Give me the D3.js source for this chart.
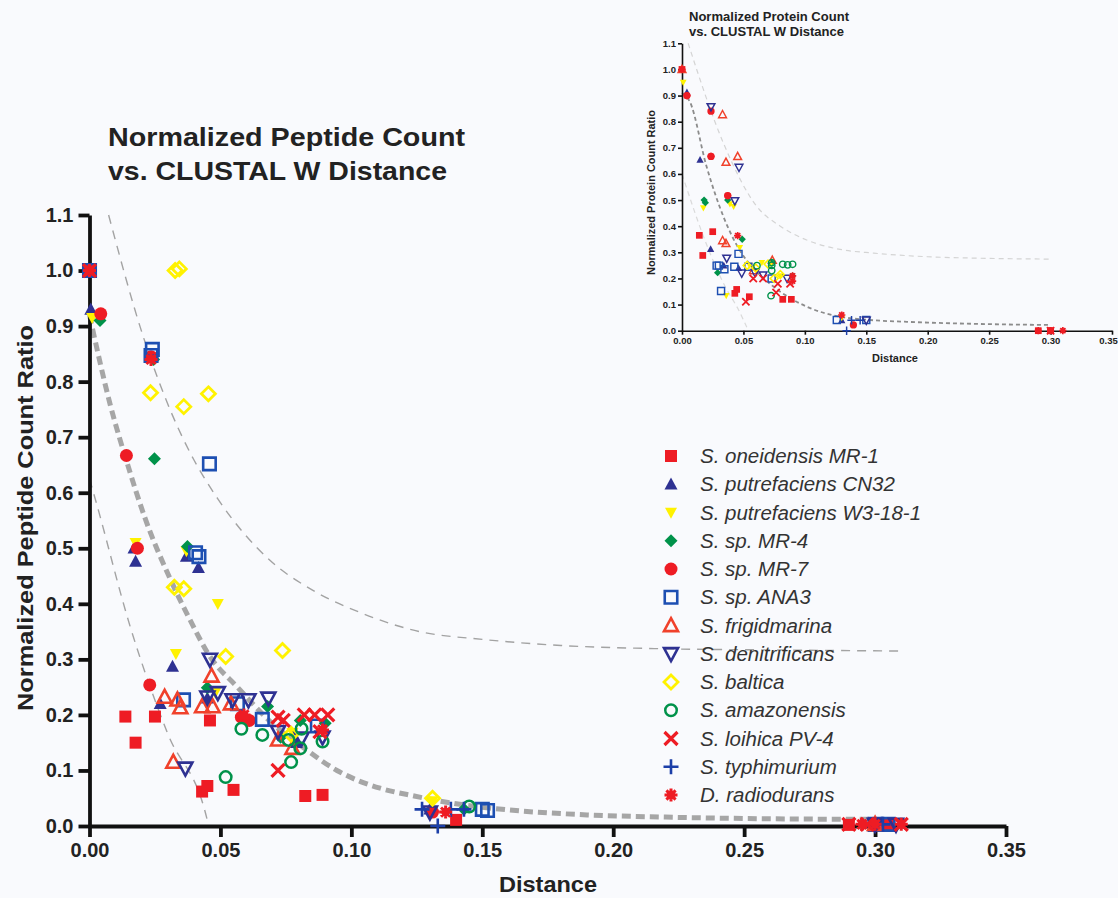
<!DOCTYPE html>
<html>
<head>
<meta charset="utf-8">
<script src="https://cdn.jsdelivr.net/npm/d3@7"></script>
<style>
  body { margin: 0; background: #f9fafd; }
  svg { display: block; font-family: "Liberation Sans", Arial, sans-serif; }
</style>
</head>
<body>
<div id="vizContainer"></div>
<script>
let w = 1118;
let h = 898;

// species, in legend order
let species = [
  "S. oneidensis MR-1", "S. putrefaciens CN32", "S. putrefaciens W3-18-1",
  "S. sp. MR-4", "S. sp. MR-7", "S. sp. ANA3", "S. frigidmarina",
  "S. denitrificans", "S. baltica", "S. amazonensis", "S. loihica PV-4",
  "S. typhimurium", "D. radiodurans"
];

let xTicks = [0, 0.05, 0.10, 0.15, 0.20, 0.25, 0.30, 0.35];
let yTicks = [0, 0.1, 0.2, 0.3, 0.4, 0.5, 0.6, 0.7, 0.8, 0.9, 1.0, 1.1];

// main chart: [distance, normalized peptide count ratio]
let pepMR1 = [[0, 1.0], [0.0137, 0.197], [0.0176, 0.15], [0.025, 0.197], [0.046, 0.19], [0.043, 0.062], [0.045, 0.072], [0.055, 0.065], [0.0824, 0.054], [0.089, 0.056], [0.14, 0.011], [0.29, 0.002], [0.305, 0.003]];
let pepCN32 = [[0.0005, 0.93], [0.017, 0.5], [0.0176, 0.476], [0.0317, 0.287], [0.037, 0.485], [0.0416, 0.465], [0.027, 0.22], [0.045, 0.23], [0.079, 0.15], [0.13, 0.03]];
let pepW318 = [[0.001, 0.915], [0.0176, 0.51], [0.033, 0.31], [0.049, 0.4], [0.037, 0.495], [0.0775, 0.168], [0.131, 0.045], [0.048, 0.24]];
let pepMR4 = [[0.004, 0.91], [0.0245, 0.84], [0.0248, 0.661], [0.0374, 0.503], [0.045, 0.249], [0.068, 0.215], [0.0805, 0.19], [0.09, 0.185], [0.143, 0.03], [0.073, 0.16]];
let pepMR7 = [[0.0043, 0.922], [0.0235, 0.845], [0.0141, 0.667], [0.0183, 0.5], [0.023, 0.254], [0.058, 0.196], [0.061, 0.19], [0.131, 0.025], [0.3, 0.003]];
let pepANA3 = [[0, 1.0], [0.024, 0.858], [0.0235, 0.847], [0.0458, 0.652], [0.0405, 0.492], [0.0418, 0.485], [0.0359, 0.227], [0.066, 0.192], [0.0565, 0.22], [0.087, 0.18], [0.15, 0.03], [0.152, 0.028], [0.3, 0.003], [0.305, 0.003]];
let pepFrig = [[0.0287, 0.232], [0.0336, 0.227], [0.0347, 0.213], [0.043, 0.215], [0.047, 0.215], [0.0466, 0.27], [0.032, 0.115], [0.0775, 0.14], [0.072, 0.155], [0.054, 0.22], [0.3, 0.003]];
let pepDenit = [[0.046, 0.3], [0.045, 0.232], [0.049, 0.24], [0.0546, 0.227], [0.0607, 0.227], [0.0683, 0.23], [0.0366, 0.104], [0.081, 0.158], [0.089, 0.16], [0.072, 0.17], [0.3, 0.003], [0.308, 0.003], [0.13, 0.025]];
let pepBalt = [[0.0327, 1.0], [0.0343, 1.003], [0.0233, 0.78], [0.036, 0.755], [0.0454, 0.778], [0.0324, 0.43], [0.036, 0.427], [0.052, 0.305], [0.0737, 0.316], [0.131, 0.05], [0.077, 0.165]];
let pepAmaz = [[0.058, 0.175], [0.066, 0.164], [0.076, 0.155], [0.0805, 0.14], [0.081, 0.175], [0.077, 0.115], [0.089, 0.152], [0.052, 0.088], [0.145, 0.035]];
let pepLoih = [[0, 1.0], [0.072, 0.196], [0.074, 0.19], [0.082, 0.2], [0.086, 0.2], [0.091, 0.2], [0.072, 0.1], [0.088, 0.17], [0.29, 0.003], [0.297, 0.003], [0.31, 0.003]];
let pepTyph = [[0, 1.0], [0.127, 0.03], [0.133, 0.0], [0.138, 0.03], [0.143, 0.03], [0.303, 0.003]];
let pepRadio = [[0, 1.0], [0.0235, 0.84], [0.089, 0.173], [0.059, 0.2], [0.3, 0.003], [0.295, 0.003], [0.31, 0.003], [0.136, 0.025]];

// inset chart: [distance, normalized protein count ratio]
let protMR1 = [[0, 1.0], [0.0141, 0.365], [0.025, 0.379], [0.0169, 0.288], [0.0548, 0.13], [0.0445, 0.158], [0.043, 0.143], [0.082, 0.12], [0.089, 0.12], [0.29, 0.0], [0.3, 0.0]];
let protCN32 = [[0.004, 0.912], [0.0147, 0.654], [0.0233, 0.312], [0.034, 0.249], [0.046, 0.24], [0.13, 0.04]];
let protW318 = [[0.001, 0.95], [0.0174, 0.47], [0.042, 0.475], [0.039, 0.485], [0.047, 0.318], [0.055, 0.25], [0.065, 0.26], [0.036, 0.134], [0.08, 0.21], [0.13, 0.05]];
let protMR4 = [[0.018, 0.5], [0.019, 0.49], [0.0372, 0.5], [0.049, 0.35], [0.029, 0.222], [0.073, 0.26], [0.09, 0.21]];
let protMR7 = [[0.004, 0.9], [0.0236, 0.84], [0.0236, 0.667], [0.0372, 0.517], [0.1395, 0.022], [0.3, 0]];
let protANA3 = [[0.0282, 0.249], [0.030, 0.249], [0.0345, 0.235], [0.0426, 0.245], [0.046, 0.294], [0.054, 0.245], [0.073, 0.2], [0.0318, 0.152], [0.126, 0.041], [0.15, 0.041]];
let protFrig = [[0, 1.0], [0.033, 0.827], [0.0358, 0.645], [0.0453, 0.667], [0.033, 0.345], [0.0358, 0.334], [0.0735, 0.27], [0.058, 0.23]];
let protDenit = [[0.0236, 0.857], [0.0464, 0.625], [0.043, 0.497], [0.0364, 0.277], [0.0486, 0.22], [0.0594, 0.222], [0.066, 0.213], [0.0855, 0.2], [0.15, 0.04]];
let protBalt = [[0.053, 0.25], [0.06, 0.24], [0.07, 0.255], [0.08, 0.215], [0.075, 0.2]];
let protAmaz = [[0.073, 0.26], [0.073, 0.25], [0.073, 0.23], [0.082, 0.254], [0.086, 0.252], [0.09, 0.254], [0.061, 0.249], [0.0725, 0.134]];
let protLoih = [[0.058, 0.2], [0.066, 0.2], [0.078, 0.18], [0.088, 0.18], [0.0766, 0.146], [0.052, 0.111], [0.3, 0]];
let protTyph = [[0.134, 0.0], [0.138, 0.04], [0.145, 0.04]];
let protRadio = [[0, 1.0], [0.004, 0.9], [0.0236, 0.667], [0.0453, 0.364], [0.0372, 0.517], [0.09, 0.21], [0.09, 0.19], [0.29, 0], [0.31, 0], [0.13, 0.06]];

// dashed curves
let fitMain = [[0, 0.92], [0.008, 0.757], [0.015, 0.644], [0.021, 0.557], [0.031, 0.443], [0.0385, 0.37], [0.046, 0.305], [0.0565, 0.25], [0.069, 0.188], [0.082, 0.14], [0.0945, 0.10], [0.1035, 0.08], [0.111, 0.068], [0.124, 0.054], [0.14, 0.04], [0.16, 0.029], [0.19, 0.02], [0.22, 0.016], [0.26, 0.013], [0.30, 0.012]];
let upperMain = [[0.0073, 1.1], [0.0206, 0.88], [0.031, 0.747], [0.04, 0.658], [0.049, 0.589], [0.069, 0.478], [0.085, 0.425], [0.103, 0.385], [0.126, 0.35], [0.15, 0.336], [0.18, 0.325], [0.22, 0.319], [0.26, 0.317], [0.31, 0.315]];
let lowerMain = [[0, 0.625], [0.0023, 0.587], [0.0156, 0.358], [0.0298, 0.167], [0.045, 0.01], [0.0455, 0]];
let fitInset = [[0, 0.91], [0.0065, 0.875], [0.02, 0.628], [0.0337, 0.437], [0.0467, 0.31], [0.06, 0.23], [0.0744, 0.169], [0.1015, 0.092], [0.128, 0.054], [0.15, 0.042], [0.183, 0.034], [0.24, 0.026], [0.30, 0.022]];
let upperInset = [[0.005, 1.1], [0.0337, 0.718], [0.061, 0.475], [0.08, 0.4], [0.1015, 0.347], [0.13, 0.31], [0.156, 0.297], [0.2, 0.283], [0.237, 0.278], [0.301, 0.274]];
let lowerInset = [[0, 0.6], [0.02, 0.33], [0.035, 0.17], [0.046, 0.08], [0.054, 0]];

let pepSets = [pepMR1, pepCN32, pepW318, pepMR4, pepMR7, pepANA3, pepFrig, pepDenit, pepBalt, pepAmaz, pepLoih, pepTyph, pepRadio];
let protSets = [protMR1, protCN32, protW318, protMR4, protMR7, protANA3, protFrig, protDenit, protBalt, protAmaz, protLoih, protTyph, protRadio];

// marker look per species (same order)
let red = "#ee1c24", navy = "#2e3192", blue = "#1d4fb2", yellow = "#fff200", green = "#00924a", orange = "#f0412b";
let styles = [
  { shape: "square", fill: red, stroke: "none", sw: 0, size: 12 },
  { shape: "tri", fill: navy, stroke: "none", sw: 0, size: 13 },
  { shape: "dtri", fill: yellow, stroke: "none", sw: 0, size: 12 },
  { shape: "diamond", fill: green, stroke: "none", sw: 0, size: 13 },
  { shape: "circle", fill: red, stroke: "none", sw: 0, size: 13 },
  { shape: "square", fill: "none", stroke: blue, sw: 2.6, size: 12.5 },
  { shape: "tri", fill: "none", stroke: orange, sw: 2.6, size: 14 },
  { shape: "dtri", fill: "none", stroke: navy, sw: 2.6, size: 14 },
  { shape: "diamond", fill: "none", stroke: yellow, sw: 2.8, size: 14 },
  { shape: "circle", fill: "none", stroke: green, sw: 2.5, size: 11.5 },
  { shape: "x", fill: "none", stroke: red, sw: 3.2, size: 13 },
  { shape: "plus", fill: "none", stroke: "#1c3fa8", sw: 2.6, size: 15 },
  { shape: "star", fill: red, stroke: red, sw: 3, size: 13 }
];

function shapePath(shape, s) {
  let r = s / 2;
  if (shape == "square") return `M${-r},${-r}H${r}V${r}H${-r}Z`;
  if (shape == "tri") return `M0,${-r * 1.05}L${r},${r * 0.8}L${-r},${r * 0.8}Z`;
  if (shape == "dtri") return `M0,${r * 1.05}L${r},${-r * 0.8}L${-r},${-r * 0.8}Z`;
  if (shape == "diamond") return `M0,${-r}L${r},0L0,${r}L${-r},0Z`;
  if (shape == "circle") return `M${r},0A${r},${r} 0 1 1 ${-r},0A${r},${r} 0 1 1 ${r},0Z`;
  if (shape == "x") return `M${-r},${-r}L${r},${r}M${-r},${r}L${r},${-r}`;
  if (shape == "plus") return `M${-r},0H${r}M0,${-r}V${r}`;
  // star: eight spokes around a small disc
  let p = "";
  for (let k = 0; k < 4; k++) {
    let a = k * Math.PI / 4;
    let dx = r * Math.cos(a), dy = r * Math.sin(a);
    p += `M${-dx},${-dy}L${dx},${dy}`;
  }
  let c = r * 0.45;
  return p + `M${c},0A${c},${c} 0 1 1 ${-c},0A${c},${c} 0 1 1 ${c},0Z`;
}

let viz = d3.select("#vizContainer")
  .append("svg")
  .attr("width", w)
  .attr("height", h)
  .style("background-color", "#f9fafd")
  ;

function drawPanel(opt) {
  let xScale = d3.scaleLinear().domain([0, 0.35]).range(opt.xRange);
  let yScale = d3.scaleLinear().domain([0, 1.1]).range(opt.yRange);
  let g = viz.append("g").attr("class", opt.name);

  let line = d3.line()
    .x(d => xScale(d[0]))
    .y(d => yScale(d[1]))
    .curve(d3.curveMonotoneX);

  // curves
  opt.curves.forEach(c => {
    g.append("path")
      .attr("d", line(c.pts))
      .attr("fill", "none")
      .attr("stroke", c.color)
      .attr("stroke-width", c.width)
      .attr("stroke-dasharray", c.dash);
  });

  // axes
  let xAxis = d3.axisBottom(xScale).tickValues(xTicks).tickFormat(d3.format(".2f"))
    .tickSize(opt.tick).tickPadding(opt.xPad).tickSizeOuter(0);
  let yAxis = d3.axisLeft(yScale).tickValues(yTicks).tickFormat(d3.format(".1f"))
    .tickSize(opt.tick).tickPadding(opt.yPad).tickSizeOuter(0);

  let xg = g.append("g").attr("transform", "translate(0," + opt.yRange[0] + ")").call(xAxis);
  let yg = g.append("g").attr("transform", "translate(" + opt.xRange[0] + ",0)").call(yAxis);
  [xg, yg].forEach(a => {
    a.select(".domain").attr("stroke", "#111").attr("stroke-width", opt.axisW);
    a.selectAll(".tick line").attr("stroke", "#111").attr("stroke-width", opt.axisW);
    a.selectAll(".tick text")
      .attr("fill", "#222")
      .style("font-size", opt.tickFont + "px")
      .style("font-weight", "bold");
  });
  // last x label sits at the right edge of the window
  if (opt.lastShift) {
    xg.selectAll(".tick text").filter(d => d == 0.35).attr("dx", opt.lastShift);
  }

  // points
  opt.sets.forEach((set, i) => {
    let st = styles[i];
    g.append("g").selectAll("path")
      .data(set)
      .enter()
      .append("path")
      .attr("transform", d => "translate(" + xScale(d[0]) + "," + yScale(d[1]) + ")")
      .attr("d", shapePath(st.shape, st.size * opt.mScale))
      .attr("fill", st.fill)
      .attr("stroke", st.stroke)
      .attr("stroke-width", st.sw * opt.mScale)
      ;
  });

  return { xScale, yScale, g };
}

// main chart
drawPanel({
  name: "mainChart",
  xRange: [89.5, 1006],
  yRange: [826, 215],
  tick: 11, xPad: 6, yPad: 5, axisW: 3.8, tickFont: 20, mScale: 1,
  sets: pepSets,
  curves: [
    { pts: upperMain, color: "#a3a3a3", width: 1.4, dash: "9,7" },
    { pts: lowerMain, color: "#a3a3a3", width: 1.4, dash: "9,7" },
    { pts: fitMain, color: "#a6a6a6", width: 5, dash: "9,5" }
  ]
});

// inset chart
drawPanel({
  name: "insetChart",
  xRange: [682, 1112],
  yRange: [330.7, 43.3],
  tick: 4, xPad: 3, yPad: 2, axisW: 1.6, tickFont: 9.5, mScale: 0.56, lastShift: -4,
  sets: protSets,
  curves: [
    { pts: upperInset, color: "#d4d4d4", width: 1.2, dash: "5,4" },
    { pts: lowerInset, color: "#dadada", width: 1.2, dash: "5,4" },
    { pts: fitInset, color: "#8c8c8c", width: 1.8, dash: "4,3" }
  ]
});

// titles and axis labels
let texts = viz.append("g").attr("class", "texts").attr("fill", "#222").style("font-weight", "bold");

texts.append("text").attr("x", 108).attr("y", 146).attr("font-size", 25)
  .attr("textLength", 357).attr("lengthAdjust", "spacingAndGlyphs").text("Normalized Peptide Count");
texts.append("text").attr("x", 108).attr("y", 180).attr("font-size", 25)
  .attr("textLength", 339).attr("lengthAdjust", "spacingAndGlyphs").text("vs. CLUSTAL W Distance");
texts.append("text").attr("x", 548).attr("y", 892).attr("font-size", 22).attr("text-anchor", "middle")
  .attr("textLength", 98).attr("lengthAdjust", "spacingAndGlyphs").text("Distance");
texts.append("text").attr("transform", "translate(33,518) rotate(-90)").attr("font-size", 22)
  .attr("text-anchor", "middle").attr("textLength", 386).attr("lengthAdjust", "spacingAndGlyphs")
  .text("Normalized Peptide Count Ratio");

texts.append("text").attr("x", 689).attr("y", 20.5).attr("font-size", 12.5)
  .attr("textLength", 160).attr("lengthAdjust", "spacingAndGlyphs").text("Normalized Protein Count");
texts.append("text").attr("x", 689).attr("y", 36).attr("font-size", 12.5)
  .attr("textLength", 155).attr("lengthAdjust", "spacingAndGlyphs").text("vs. CLUSTAL W Distance");
texts.append("text").attr("x", 895).attr("y", 362).attr("font-size", 11).attr("text-anchor", "middle")
  .text("Distance");
texts.append("text").attr("transform", "translate(655,192.5) rotate(-90)").attr("font-size", 11)
  .attr("text-anchor", "middle").attr("textLength", 165).attr("lengthAdjust", "spacingAndGlyphs")
  .text("Normalized Protein Count Ratio");

// legend
let legend = viz.append("g").attr("class", "legend");
let legendRows = legend.selectAll("g")
  .data(species)
  .enter()
  .append("g")
  .attr("transform", (d, i) => "translate(671," + (456 + i * 28.25) + ")");

legendRows.append("path")
  .attr("d", (d, i) => shapePath(styles[i].shape, styles[i].size))
  .attr("fill", (d, i) => styles[i].fill)
  .attr("stroke", (d, i) => styles[i].stroke)
  .attr("stroke-width", (d, i) => styles[i].sw);

legendRows.append("text")
  .attr("x", 29)
  .attr("y", 7)
  .attr("font-size", 20.5)
  .attr("font-style", "italic")
  .attr("fill", "#333")
  .text(d => d);
</script>
</body>
</html>
